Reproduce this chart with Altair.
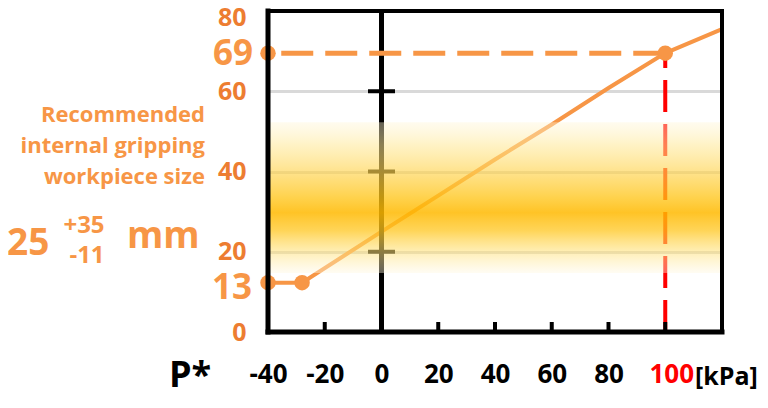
import altair as alt
import pandas as pd

# ---- data ----
curve_x = [-40, -28, 0, 20, 40, 60, 80, 100, 120]
curve_y = [12.3, 12.3, 25.0, 34, 43, 51.7, 60.8, 69.5, 75.5]
marker_x = [-40, -28, -40, 100]
marker_y = [12.3, 12.3, 69.5, 69.5]
x_ticks = [-40, -20, 0, 20, 40, 60, 80, 100]
x_inner_ticks = [-20, 20, 40, 60, 80, 100]
y_ticks = [0, 20, 40, 60, 80]
zero_axis_ticks = [20, 40, 60, 80]
band_low, band_high = 14.7, 52.3
rated_pressure = 100
size_at_rated = 69
min_size = 13
x_min, x_max = -40, 120
y_min, y_max = 0, 80
annotation_lines = ["Recommended", "internal gripping", "workpiece size"]

ORANGE = "#F79646"
DARK_ORANGE = "#ED7D31"
FONT = "Open Sans"

xs = alt.Scale(domain=[x_min, x_max], nice=False, zero=False)
ys = alt.Scale(domain=[y_min, y_max], nice=False, zero=False)

curve_df = pd.DataFrame({"x": curve_x, "y": curve_y})
marker_df = pd.DataFrame({"x": marker_x, "y": marker_y})
one = pd.DataFrame({"a": [0]})

# base layer carrying axes and gridlines
base = alt.Chart(curve_df).mark_line(color=ORANGE, strokeWidth=4).encode(
    x=alt.X("x:Q", scale=xs, axis=alt.Axis(
        values=x_ticks, grid=False, domain=False, ticks=False, tickSize=0,
        labelExpr="toString(datum.value)",
        labelColor=alt.expr(f"datum.value == {rated_pressure} ? '#FF0000' : '#000000'"),
        labelOffset=alt.expr(f"datum.value == {rated_pressure} ? 6 : 0"),
        labelFontSize=26, labelFontWeight="bold", labelFont=FONT, labelPadding=29,
        labelFlush=False, labelOverlap=False, title=None)),
    y=alt.Y("y:Q", scale=ys, axis=alt.Axis(
        values=y_ticks, grid=True, gridColor="#D9D9D9", gridWidth=3,
        domain=False, ticks=False, tickSize=0,
        labelColor=DARK_ORANGE, labelFontSize=25, labelFontWeight="bold",
        labelOffset=alt.expr(f"datum.value == {y_max} ? 6 : 0"),
        labelFont=FONT, labelPadding=22, labelFlush=False, title=None)),
)

# vertical axis at x=0
zero_axis = alt.Chart(one).mark_rule(color="black", strokeWidth=5).encode(
    x=alt.datum(0, scale=xs), y=alt.datum(y_min, scale=ys), y2=alt.datum(y_max))
zero_ticks = alt.Chart(pd.DataFrame({"y": zero_axis_ticks})).mark_tick(
    orient="horizontal", size=27, thickness=4, color="black", opacity=1).encode(
    x=alt.datum(0, scale=xs), y=alt.Y("y:Q", scale=ys))

# red dashed vertical guide at rated pressure (drawn bottom-up)
red_guide = alt.Chart(one).mark_rule(color="#FF0000", strokeWidth=4, strokeDash=[32, 12]).encode(
    x=alt.datum(rated_pressure, scale=xs), y=alt.datum(y_min, scale=ys), y2=alt.datum(size_at_rated))
# orange dashed horizontal guide (drawn right to left)
orange_guide = alt.Chart(one).mark_rule(color=ORANGE, strokeWidth=5, strokeDash=[32, 12]).encode(
    x=alt.datum(rated_pressure, scale=xs), x2=alt.datum(x_min),
    y=alt.datum(marker_y[2], scale=ys))

markers = alt.Chart(marker_df).mark_point(filled=True, shape="circle", size=240,
                                          color=ORANGE, opacity=1).encode(
    x=alt.X("x:Q", scale=xs), y=alt.Y("y:Q", scale=ys))

# recommended size band (gradient)
band = alt.Chart(one).mark_rect(
    color=alt.Gradient(
        gradient="linear", x1=0, x2=0, y1=0, y2=1,
        stops=[
            alt.GradientStop(offset=0.0, color="rgba(255,246,215,0.4)"),
            alt.GradientStop(offset=0.15, color="rgba(255,232,150,0.55)"),
            alt.GradientStop(offset=0.33, color="rgba(255,212,80,0.66)"),
            alt.GradientStop(offset=0.5, color="rgba(255,196,20,0.76)"),
            alt.GradientStop(offset=0.6, color="rgba(255,185,0,0.85)"),
            alt.GradientStop(offset=0.72, color="rgba(255,198,30,0.74)"),
            alt.GradientStop(offset=0.86, color="rgba(255,225,120,0.55)"),
            alt.GradientStop(offset=1.0, color="rgba(255,248,225,0.4)"),
        ])).encode(
    x=alt.datum(x_min, scale=xs), x2=alt.datum(x_max),
    y=alt.datum(band_low, scale=ys), y2=alt.datum(band_high))

# frame
frame_left = alt.Chart(one).mark_rule(color="black", strokeWidth=5, strokeCap="square").encode(
    x=alt.datum(x_min, scale=xs), y=alt.datum(y_min, scale=ys), y2=alt.datum(y_max))
frame_bottom = alt.Chart(one).mark_rule(color="black", strokeWidth=5, strokeCap="square").encode(
    x=alt.datum(x_min, scale=xs), x2=alt.datum(x_max), y=alt.datum(y_min, scale=ys))
frame_top = alt.Chart(one).mark_rule(color="black", strokeWidth=4, strokeCap="square").encode(
    x=alt.datum(x_min, scale=xs), x2=alt.datum(x_max), y=alt.datum(y_max, scale=ys))
frame_right = alt.Chart(one).mark_rule(color="black", strokeWidth=4, strokeCap="square").encode(
    x=alt.datum(x_max, scale=xs), y=alt.datum(y_min, scale=ys), y2=alt.datum(y_max))
inner_ticks = alt.Chart(pd.DataFrame({"x": x_inner_ticks})).mark_rule(
    color="black", strokeWidth=4).encode(
    x=alt.X("x:Q", scale=xs), y=alt.value(321), y2=alt.value(311))

# special y labels
def ylabel(label, value, dx, dy):
    return alt.Chart(one).mark_text(text=str(label), font=FONT, fontSize=35, fontWeight="bold",
                                    color=ORANGE, align="right", baseline="middle", dy=dy).encode(
        x=alt.value(dx), y=alt.datum(value, scale=ys))

lab69 = ylabel(size_at_rated, marker_y[2], -15, 1)
lab13 = ylabel(min_size, marker_y[0], -16, 5)

def text(t, x, y, size, color=ORANGE, align="left", weight="bold", baseline="middle"):
    return alt.Chart(one).mark_text(text=t, font=FONT, fontSize=size, fontWeight=weight,
                                    color=color, align=align, baseline=baseline).encode(
        x=alt.value(x), y=alt.value(y))

texts = [
    text(annotation_lines[0], -63, 104, 22, align="right"),
    text(annotation_lines[1], -63, 135, 22, align="right"),
    text(annotation_lines[2], -63, 166, 22, align="right"),
    text("25", -261, 233, 37),
    text("+35", -184, 215, 24, align="center"),
    text("-11", -181, 245, 24, align="center"),
    text("mm", -141, 226, 37),
    text("P*", -99, 376, 36, color="black", baseline="alphabetic"),
    text("[kPa]", 427, 366, 25, color="black"),
]

chart = alt.layer(
    base, zero_axis, zero_ticks, red_guide, orange_guide, markers, band,
    frame_left, frame_bottom, frame_top, frame_right, inner_ticks,
    lab69, lab13, *texts,
).properties(
    width=454, height=321,
    padding={"left": 260, "top": 3, "right": 38, "bottom": 66},
    autosize=alt.AutoSizeParams(type="none"),
).configure_view(stroke="transparent")

chart.save("out.html", embed_options={"renderer": "svg", "actions": False})
